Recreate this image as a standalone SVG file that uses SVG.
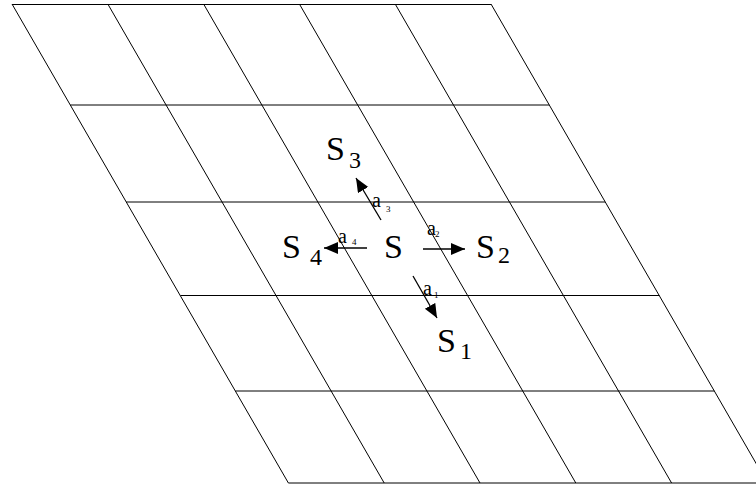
<svg xmlns="http://www.w3.org/2000/svg" width="756" height="486" viewBox="0 0 756 486">
<defs>
<style>
.g{stroke:#000;stroke-width:1;fill:none}
.c{stroke:#000;stroke-width:1.3;fill:none}
text{font-family:'Liberation Serif','Times New Roman','DejaVu Serif',serif;fill:#000}
.S{font-size:34px}
.n{font-size:24px}
.a{font-size:20px}
.k{font-size:9px}
</style>
<marker id="ah" markerUnits="userSpaceOnUse" markerWidth="15" markerHeight="13" refX="14" refY="6" orient="auto">
<path d="M0,0 L14,6 L0,12 z" fill="#000"/>
</marker>
</defs>
<rect width="756" height="486" fill="#fff"/>
<g id="grid">
<line class="g" x1="12" y1="4.5" x2="491" y2="4.5"/>
<line class="g" x1="70.3" y1="105" x2="549.3" y2="105"/>
<line class="g" x1="126.2" y1="202" x2="605.2" y2="202"/>
<line class="g" x1="180.5" y1="295.5" x2="659.5" y2="295.5"/>
<line class="g" x1="235.3" y1="391" x2="714.3" y2="391"/>
<line class="g" x1="288.4" y1="483" x2="767.4" y2="483"/>
<line class="g" x1="12" y1="4" x2="288.4" y2="483"/>
<line class="g" x1="107.8" y1="4" x2="384.2" y2="483"/>
<line class="g" x1="203.6" y1="4" x2="480" y2="483"/>
<line class="g" x1="299.4" y1="4" x2="575.8" y2="483"/>
<line class="g" x1="395.2" y1="4" x2="671.6" y2="483"/>
<line class="g" x1="491" y1="4" x2="767.4" y2="483"/>
</g>
<g id="S"><text class="S" x="384" y="258" font-family="Liberation Serif, serif">S</text></g>
<g id="S1"><text class="S" x="437" y="352" font-family="Liberation Serif, serif">S</text><text class="n" x="460" y="359" font-family="Liberation Serif, serif">1</text></g>
<g id="S2"><text class="S" x="476" y="258" font-family="Liberation Serif, serif">S</text><text class="n" x="498" y="263" font-family="Liberation Serif, serif">2</text></g>
<g id="S3"><text class="S" x="326" y="160" font-family="Liberation Serif, serif">S</text><text class="n" x="349" y="168" font-family="Liberation Serif, serif">3</text></g>
<g id="S4"><text class="S" x="282" y="258" font-family="Liberation Serif, serif">S</text><text class="n" x="310" y="265" font-family="Liberation Serif, serif">4</text></g>
<g id="connectors">
<line class="c" x1="413" y1="276" x2="437" y2="318" marker-end="url(#ah)"/>
<line class="c" x1="423" y1="249" x2="465" y2="249" marker-end="url(#ah)"/>
<line class="c" x1="381" y1="220" x2="356" y2="178" marker-end="url(#ah)"/>
<line class="c" x1="367" y1="248" x2="324" y2="248" marker-end="url(#ah)"/>
<text class="a" x="423" y="295">a</text><text class="k" x="434" y="298">1</text>
<text class="a" x="427" y="235">a</text><text class="k" x="435" y="237">2</text>
<text class="a" x="372" y="207">a</text><text class="k" x="386" y="212">3</text>
<text class="a" x="338" y="243">a</text><text class="k" x="352" y="245">4</text>
</g>
</svg>
